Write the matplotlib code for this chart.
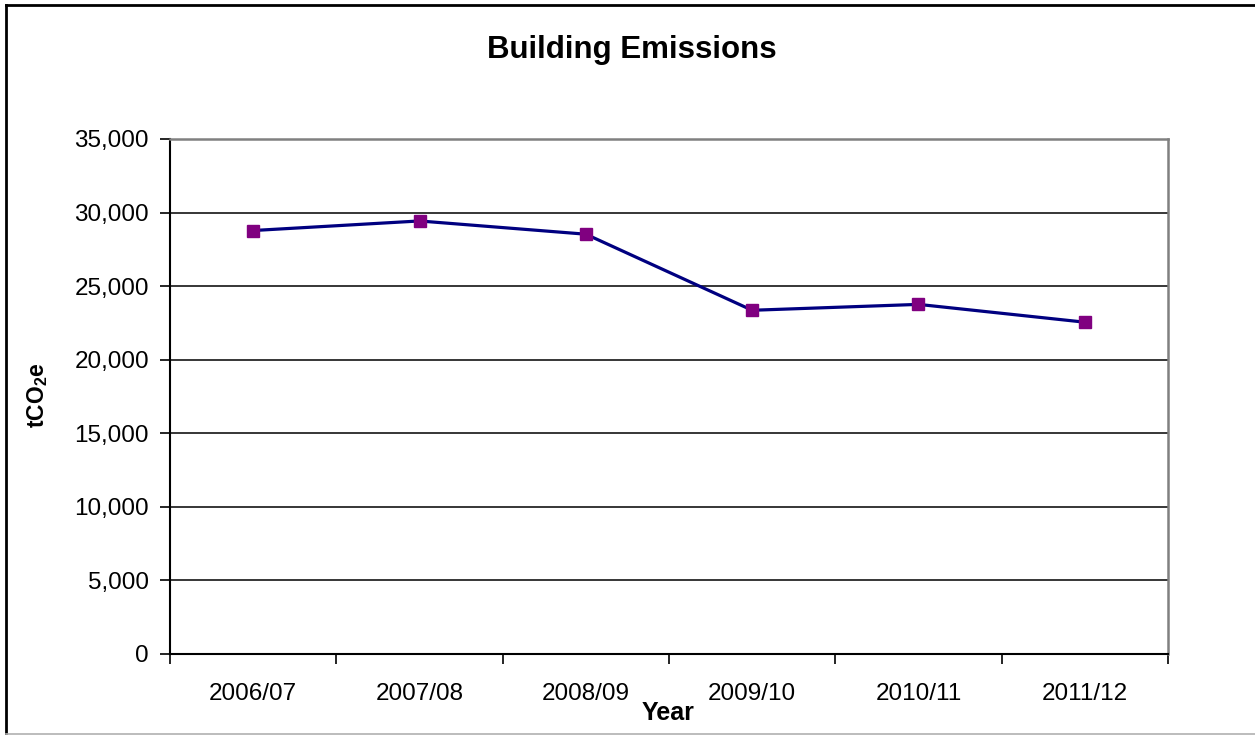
import matplotlib
matplotlib.use("Agg")
import matplotlib.pyplot as plt
from matplotlib.ticker import FuncFormatter, FixedLocator
from matplotlib.lines import Line2D

plt.rcParams['font.family'] = ['Liberation Sans', 'DejaVu Sans']
plt.rcParams['mathtext.fontset'] = 'custom'
plt.rcParams['mathtext.rm'] = 'Liberation Sans:bold'
plt.rcParams['mathtext.bf'] = 'Liberation Sans:bold'

years = ["2006/07", "2007/08", "2008/09", "2009/10", "2010/11", "2011/12"]
emissions = [28780, 29430, 28530, 23360, 23760, 22550]
y_ticks = [0, 5000, 10000, 15000, 20000, 25000, 30000, 35000]

fig = plt.figure(figsize=(12.55, 7.35), dpi=100)
ax = fig.add_axes([170/1255, 81/735, 998/1255, 515/735])

x = list(range(len(years)))
ax.plot(x, emissions, color='#000080', linewidth=2.3, marker='s',
        markersize=8.5, markerfacecolor='#800080', markeredgecolor='#800080',
        zorder=3)

ax.set_xlim(-0.5, len(years) - 0.5)
ax.set_ylim(0, 35000)
ax.set_yticks(y_ticks)
ax.yaxis.set_major_formatter(FuncFormatter(lambda v, p: f"{int(v):,}"))
for t in y_ticks[1:-1]:
    ax.axhline(t, color='black', linewidth=1.1, zorder=1)

ax.set_xticks(x)
ax.set_xticklabels(years)
ax.xaxis.set_minor_locator(FixedLocator([i - 0.5 for i in range(len(years) + 1)]))
ax.tick_params(axis='x', which='major', length=0, pad=21, labelsize=17.5)
ax.tick_params(axis='x', which='minor', length=7.2, width=1.2, color='black')
ax.tick_params(axis='y', which='major', length=7.2, width=1.2, pad=8, labelsize=17.5)

for s in ['top', 'right']:
    ax.spines[s].set_color('#808080')
    ax.spines[s].set_linewidth(1.8)
for s in ['left', 'bottom']:
    ax.spines[s].set_color('black')
    ax.spines[s].set_linewidth(1.5)

fig.text(632/1255, 1 - 50/735, "Building Emissions", ha='center', va='center',
         fontsize=22.5, fontweight='bold')
fig.text(668/1255, 1 - 713/735, "Year", ha='center', va='center',
         fontsize=18, fontweight='bold')
fig.text(38/1255, 1 - 395/735, r"tCO$_\mathrm{2}$e", ha='center', va='center',
         fontsize=16.5, fontweight='bold', rotation=90)

# chart frame
fig.add_artist(Line2D([6/1255, 6/1255], [0, 1 - 5/735], transform=fig.transFigure,
                      color='black', linewidth=2))
fig.add_artist(Line2D([6/1255, 1], [1 - 5/735, 1 - 5/735], transform=fig.transFigure,
                      color='black', linewidth=2))
fig.add_artist(Line2D([6/1255, 1], [1/735, 1/735], transform=fig.transFigure,
                      color='#b0b0b0', linewidth=1.2))

fig.savefig("out.png", dpi=100)
